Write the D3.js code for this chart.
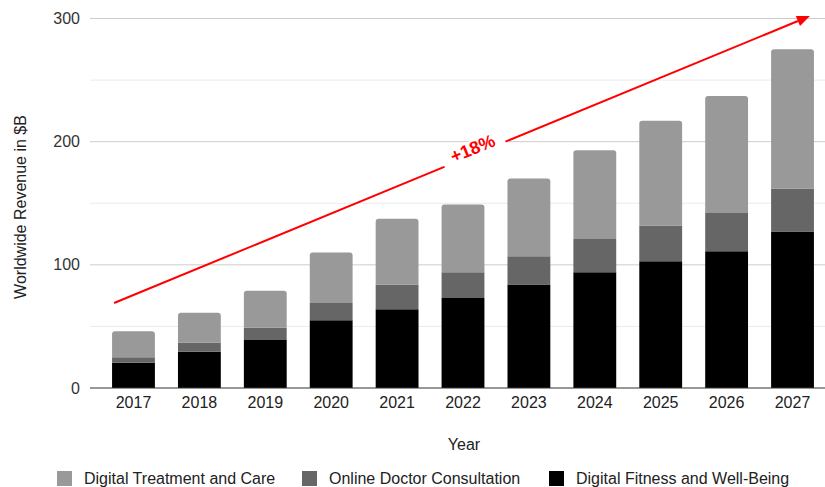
<!DOCTYPE html>
<html>
<head>
<meta charset="utf-8">
<script src="https://cdn.jsdelivr.net/npm/d3@7"></script>
<style>
  html, body { margin: 0; padding: 0; background: #fff; }
  svg { display: block; font-family: "Liberation Sans", Arial, sans-serif; }
</style>
</head>
<body>
<svg id="chart" width="825" height="487"></svg>
<script>
// Worldwide digital health revenue ($B) by segment
const years = ["2017","2018","2019","2020","2021","2022","2023","2024","2025","2026","2027"];
const fitness      = [20.5, 29.5, 39, 55, 64, 73, 84, 94, 103, 111, 127];
const consultation = [4.5, 7.5, 10, 14, 20, 21, 23, 27, 29, 31, 35];
const treatment    = [21, 24, 30, 41, 53.5, 55, 63, 72, 85, 95, 113];
const seriesNames  = ["Digital Fitness and Well-Being", "Online Doctor Consultation", "Digital Treatment and Care"];
const seriesColors = ["#000000", "#666666", "#999999"];
const legendOrder  = [2, 1, 0];
const yTicks = [0, 100, 200, 300];
const yMinor = [50, 150, 250];
const growthLabel = "+18%";
const trendStart = 69, trendEnd = 302;

const svg = d3.select("#chart");
const W = 825;
const plotLeft = 90;

const x = d3.scaleBand().domain(years).range([89, 837]).paddingInner(0.35).paddingOuter(0.35);
const y = d3.scaleLinear().domain([0, 300]).range([388, 18.5]);

// gridlines
svg.append("g").selectAll("line").data(yMinor).join("line")
  .attr("x1", plotLeft).attr("x2", W)
  .attr("y1", d => y(d)).attr("y2", d => y(d))
  .attr("stroke", "#ebebeb").attr("stroke-width", 1);
svg.append("g").selectAll("line").data(yTicks.filter(d => d > 0)).join("line")
  .attr("x1", plotLeft).attr("x2", W)
  .attr("y1", d => y(d)).attr("y2", d => y(d))
  .attr("stroke", "#cccccc").attr("stroke-width", 1);

// y axis labels
const yAxis = d3.axisLeft(y).tickValues(yTicks).tickSize(0).tickPadding(10);
const gy = svg.append("g").attr("transform", `translate(${plotLeft},0)`).call(yAxis);
gy.select(".domain").remove();
gy.selectAll("text").attr("font-size", 16).attr("fill", "#333")
  .attr("font-family", "'Liberation Sans', Arial, sans-serif");

// stacked bars
const rows = years.map((yr, i) => ({ year: yr, s0: fitness[i], s1: consultation[i], s2: treatment[i] }));
const stack = d3.stack().keys(["s0", "s1", "s2"]);
const layers = stack(rows);

const r = 3;
layers.forEach((layer, li) => {
  const top = li === layers.length - 1;
  svg.append("g").selectAll("path").data(layer).join("path")
    .attr("fill", seriesColors[li])
    .attr("d", d => {
      const x0 = x(d.data.year), w = x.bandwidth();
      const y0 = y(d[0]), y1 = y(d[1]);
      if (!top) return `M${x0},${y0}V${y1}H${x0 + w}V${y0}Z`;
      return `M${x0},${y0}V${y1 + r}Q${x0},${y1} ${x0 + r},${y1}H${x0 + w - r}Q${x0 + w},${y1} ${x0 + w},${y1 + r}V${y0}Z`;
    });
});

// baseline
svg.append("line").attr("x1", plotLeft).attr("x2", W)
  .attr("y1", y(0)).attr("y2", y(0))
  .attr("stroke", "#333").attr("stroke-width", 1.2);

// x axis labels
const xAxis = d3.axisBottom(x).tickSize(0).tickPadding(9);
const gx = svg.append("g").attr("transform", `translate(0,${y(0)})`).call(xAxis);
gx.select(".domain").remove();
gx.selectAll("text").attr("font-size", 16).attr("fill", "#222")
  .attr("font-family", "'Liberation Sans', Arial, sans-serif");

// axis titles
svg.append("text").attr("x", 464).attr("y", 450).attr("text-anchor", "middle")
  .attr("font-size", 16).attr("fill", "#222").text("Year");
svg.append("text").attr("transform", "translate(26,207) rotate(-90)")
  .attr("text-anchor", "middle").attr("font-size", 16).attr("fill", "#222")
  .text("Worldwide Revenue in $B");

// growth trend arrow
const ax0 = x(years[0]) + 2, ay0 = y(trendStart);
const ax1 = x(years[years.length - 1]) + x.bandwidth() - 4, ay1 = y(trendEnd);
const ang = Math.atan2(ay1 - ay0, ax1 - ax0);
const headLen = 13, headW = 5.5;
const bx = ax1 - headLen * Math.cos(ang), by = ay1 - headLen * Math.sin(ang);
svg.append("line").attr("x1", ax0).attr("y1", ay0).attr("x2", bx).attr("y2", by)
  .attr("stroke", "#ff0000").attr("stroke-width", 2);
const px = -Math.sin(ang), py = Math.cos(ang);
svg.append("path")
  .attr("d", `M${ax1},${ay1}L${bx + px * headW},${by + py * headW}L${bx - px * headW},${by - py * headW}Z`)
  .attr("fill", "#ff0000");

// growth label on the arrow
const t = (475 - ax0) / (ax1 - ax0);
const lx = ax0 + t * (ax1 - ax0), ly = ay0 + t * (ay1 - ay0);
const lg = svg.append("g").attr("transform", `translate(${lx},${ly}) rotate(${ang * 180 / Math.PI})`);
lg.append("rect").attr("x", -33).attr("y", -14).attr("width", 66).attr("height", 20).attr("fill", "#fff");
lg.append("text").attr("x", 0).attr("y", 0).attr("text-anchor", "middle")
  .attr("font-size", 18).attr("font-weight", "bold").attr("fill", "#ff0000")
  .text(growthLabel);

// legend
const legX = [57, 302, 549];
const leg = svg.append("g");
legendOrder.forEach((si, k) => {
  leg.append("rect").attr("x", legX[k]).attr("y", 471).attr("width", 15).attr("height", 15)
    .attr("fill", seriesColors[si]);
  leg.append("text").attr("x", legX[k] + 27).attr("y", 484)
    .attr("font-size", 16).attr("fill", "#222").text(seriesNames[si]);
});
</script>
</body>
</html>
